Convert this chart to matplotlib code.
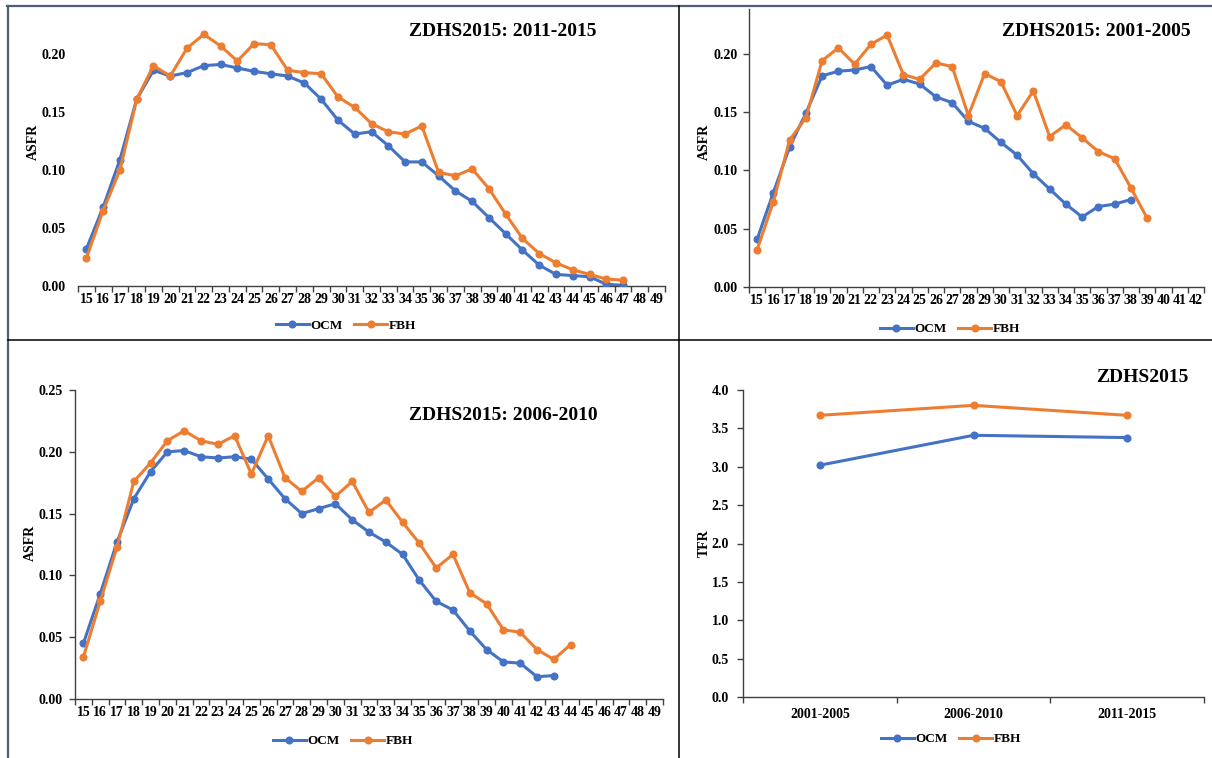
import numpy as np
import matplotlib
matplotlib.use("Agg")
import matplotlib.pyplot as plt
from matplotlib.lines import Line2D

plt.rcParams['font.family'] = ['Liberation Serif', 'DejaVu Serif']
plt.rcParams['font.weight'] = 'bold'

BLUE = '#4472C4'
ORANGE = '#ED7D31'

# ---------------- data ----------------
ages_full = list(range(15, 50))   # 15..49
ages_2001 = list(range(15, 43))   # 15..42

ocm_2011 = [0.032, 0.068, 0.109, 0.161, 0.186, 0.181, 0.184, 0.190, 0.191, 0.188,
            0.185, 0.183, 0.181, 0.175, 0.161, 0.143, 0.131, 0.133, 0.121, 0.107,
            0.107, 0.095, 0.082, 0.073, 0.059, 0.045, 0.031, 0.018, 0.010, 0.009,
            0.008, 0.0015, 0.0006]
fbh_2011 = [0.024, 0.065, 0.100, 0.161, 0.190, 0.181, 0.205, 0.217, 0.207, 0.194,
            0.209, 0.208, 0.186, 0.184, 0.183, 0.163, 0.154, 0.140, 0.133, 0.131,
            0.138, 0.098, 0.095, 0.101, 0.084, 0.062, 0.041, 0.028, 0.020, 0.014,
            0.010, 0.006, 0.005]

ocm_2001 = [0.041, 0.081, 0.120, 0.149, 0.181, 0.185, 0.186, 0.189, 0.173, 0.178,
            0.174, 0.163, 0.158, 0.142, 0.136, 0.124, 0.113, 0.097, 0.084, 0.071,
            0.060, 0.069, 0.071, 0.075]
fbh_2001 = [0.032, 0.073, 0.126, 0.145, 0.194, 0.205, 0.191, 0.208, 0.216, 0.182,
            0.178, 0.192, 0.189, 0.147, 0.183, 0.176, 0.147, 0.168, 0.129, 0.139,
            0.128, 0.116, 0.110, 0.085, 0.059]

ocm_2006 = [0.045, 0.085, 0.127, 0.162, 0.184, 0.200, 0.201, 0.196, 0.195, 0.196,
            0.194, 0.178, 0.162, 0.150, 0.154, 0.158, 0.145, 0.135, 0.127, 0.117,
            0.096, 0.079, 0.072, 0.055, 0.040, 0.030, 0.029, 0.018, 0.019]
fbh_2006 = [0.034, 0.079, 0.123, 0.176, 0.191, 0.209, 0.217, 0.209, 0.206, 0.213,
            0.182, 0.213, 0.179, 0.168, 0.179, 0.164, 0.176, 0.151, 0.161, 0.143,
            0.126, 0.106, 0.117, 0.086, 0.077, 0.056, 0.054, 0.040, 0.032, 0.044]

periods = ['2001-2005', '2006-2010', '2011-2015']
tfr_ocm = [3.02, 3.41, 3.38]
tfr_fbh = [3.67, 3.80, 3.67]

# ---------------- figure ----------------
W, H = 1212, 758
fig = plt.figure(figsize=(W / 100, H / 100), dpi=100)


def rect(l, t, r, b):
    return [l / W, 1 - b / H, (r - l) / W, (b - t) / H]


def fx(x):
    return x / W


def fy(y):
    return 1 - y / H


AX_COLOR = '#404040'
LW = 2.2
MS = 4.8
TICKFS = 10
LABFS = 10
TITLEFS = 14
LEGFS = 9.5


def style_cat_axis(ax, cats, show_yaxis=True, ypad=4):
    n = len(cats)
    ax.set_xlim(-0.5, n - 0.5)
    ax.set_xticks(np.arange(-0.5, n, 1.0))
    ax.set_xticklabels([])
    ax.set_xticks(np.arange(n), minor=True)
    ax.set_xticklabels([str(c) for c in cats], minor=True)
    ax.tick_params(axis='x', which='major', length=4, width=1, color=AX_COLOR, direction='out')
    ax.tick_params(axis='x', which='minor', length=0, pad=5, labelsize=TICKFS)
    for s in ['top', 'right']:
        ax.spines[s].set_visible(False)
    ax.spines['bottom'].set_color(AX_COLOR)
    ax.spines['bottom'].set_linewidth(1)
    if show_yaxis:
        ax.spines['left'].set_color(AX_COLOR)
        ax.spines['left'].set_linewidth(1)
        ax.tick_params(axis='y', length=4, width=1, color=AX_COLOR, direction='out',
                       pad=ypad, labelsize=TICKFS)
    else:
        ax.spines['left'].set_visible(False)
        ax.tick_params(axis='y', length=0, pad=9, labelsize=TICKFS)
    for lab in ax.get_xticklabels(minor=True) + ax.get_yticklabels():
        lab.set_fontweight('bold')
    ax.patch.set_alpha(0)


def plot_series(ax, cats, ocm, fbh):
    idx_o = [cats.index(a) for a in cats[:len(ocm)]]
    idx_f = [cats.index(a) for a in cats[:len(fbh)]]
    ax.plot(idx_o, ocm, color=BLUE, lw=LW, marker='o', ms=MS, zorder=3)
    ax.plot(idx_f, fbh, color=ORANGE, lw=LW, marker='o', ms=MS, zorder=3)


def add_legend(cx, cy):
    handles = [Line2D([], [], color=BLUE, lw=LW, marker='o', ms=MS),
               Line2D([], [], color=ORANGE, lw=LW, marker='o', ms=MS)]
    fig.legend(handles, ['OCM', 'FBH'], loc='center', bbox_to_anchor=(fx(cx), fy(cy)),
               ncol=2, frameon=False, handlelength=2.5, handletextpad=0.1,
               columnspacing=0.9, prop={'family': 'Liberation Serif', 'weight': 'bold', 'size': LEGFS})


# Panel 1: 2011-2015
ax1 = fig.add_axes(rect(78, 8, 665, 286))
plot_series(ax1, ages_full, ocm_2011, fbh_2011)
ax1.set_ylim(0, 0.2397)
ax1.set_yticks([0.00, 0.05, 0.10, 0.15, 0.20])
ax1.set_yticklabels(['0.00', '0.05', '0.10', '0.15', '0.20'])
style_cat_axis(ax1, ages_full, show_yaxis=False)
fig.text(fx(503), fy(31), 'ZDHS2015: 2011-2015', ha='center', va='center',
         fontsize=TITLEFS, fontweight='bold')
fig.text(fx(33), fy(142), 'ASFR', rotation=90, ha='center', va='center',
         fontsize=LABFS, fontweight='bold')
add_legend(346, 326)

# Panel 2: 2001-2005
ax2 = fig.add_axes(rect(749, 9, 1204, 287))
plot_series(ax2, ages_2001, ocm_2001, fbh_2001)
ax2.set_ylim(0, 0.2383)
ax2.set_yticks([0.00, 0.05, 0.10, 0.15, 0.20])
ax2.set_yticklabels(['0.00', '0.05', '0.10', '0.15', '0.20'])
style_cat_axis(ax2, ages_2001, show_yaxis=True, ypad=4)
fig.text(fx(1096), fy(31), 'ZDHS2015: 2001-2005', ha='center', va='center',
         fontsize=TITLEFS, fontweight='bold')
fig.text(fx(704), fy(142), 'ASFR', rotation=90, ha='center', va='center',
         fontsize=LABFS, fontweight='bold')
add_legend(950, 329)

# Panel 3: 2006-2010
ax3 = fig.add_axes(rect(75, 390, 663, 699))
plot_series(ax3, ages_full, ocm_2006, fbh_2006)
ax3.set_ylim(0, 0.25)
ax3.set_yticks([0.00, 0.05, 0.10, 0.15, 0.20, 0.25])
ax3.set_yticklabels(['0.00', '0.05', '0.10', '0.15', '0.20', '0.25'])
style_cat_axis(ax3, ages_full, show_yaxis=True, ypad=5)
fig.text(fx(503), fy(416), 'ZDHS2015: 2006-2010', ha='center', va='center',
         fontsize=TITLEFS, fontweight='bold')
fig.text(fx(30), fy(543), 'ASFR', rotation=90, ha='center', va='center',
         fontsize=LABFS, fontweight='bold')
add_legend(343, 741)

# Panel 4: TFR
ax4 = fig.add_axes(rect(743, 390, 1204, 697))
xp = np.arange(len(periods))
ax4.plot(xp, tfr_ocm, color=BLUE, lw=LW, marker='o', ms=MS, zorder=3)
ax4.plot(xp, tfr_fbh, color=ORANGE, lw=LW, marker='o', ms=MS, zorder=3)
ax4.set_ylim(0, 4.0)
ax4.set_yticks(np.arange(0, 4.01, 0.5))
ax4.set_yticklabels([f'{v:.1f}' for v in np.arange(0, 4.01, 0.5)])
style_cat_axis(ax4, periods, show_yaxis=True, ypad=6)
ax4.tick_params(axis='x', which='minor', pad=8)
fig.text(fx(1142), fy(378), 'ZDHS2015', ha='center', va='center',
         fontsize=TITLEFS, fontweight='bold')
fig.text(fx(704), fy(543), 'TFR', rotation=90, ha='center', va='center',
         fontsize=LABFS, fontweight='bold')
add_legend(951, 739)

# Frame / dividers
BORDER = '#4F5D75'
fig.add_artist(Line2D([fx(7), fx(W)], [fy(6), fy(6)], color=BORDER, lw=1.6))
fig.add_artist(Line2D([fx(8), fx(8)], [fy(6), fy(H)], color=BORDER, lw=1.6))
fig.add_artist(Line2D([fx(679), fx(679)], [fy(6), fy(H)], color='black', lw=1.1))
fig.add_artist(Line2D([fx(8), fx(W)], [fy(340), fy(340)], color='black', lw=1.1))

fig.savefig('out.png', dpi=100)
